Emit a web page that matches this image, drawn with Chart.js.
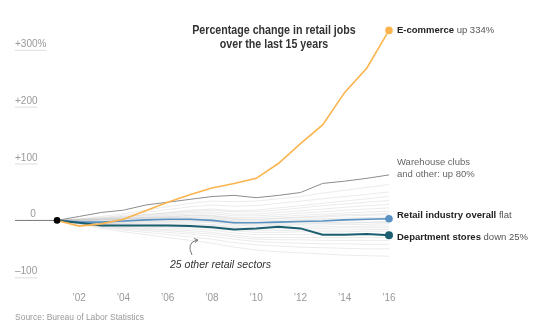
<!DOCTYPE html>
<html>
<head>
<meta charset="utf-8">
<script src="https://cdn.jsdelivr.net/npm/chart.js@4.4.1/dist/chart.umd.min.js"></script>
<style>
  body { margin: 0; background: #fff; }
  #wrap { width: 540px; height: 335px; position: relative; }
</style>
</head>
<body>
<div id="wrap"><canvas id="chart"></canvas></div>
<script>
// years on the x axis
const years = [2001, 2002, 2003, 2004, 2005, 2006, 2007, 2008, 2009, 2010, 2011, 2012, 2013, 2014, 2015, 2016];
const xTickYears = [2002, 2004, 2006, 2008, 2010, 2012, 2014, 2016];
const yTicks = [300, 200, 100, 0, -100];

// highlighted series (% change since 2001)
const ecommerce = [0, -10, -6, 2, 17, 32, 45, 57, 65, 74, 100, 135, 168, 225, 268, 334];
const warehouse = [0, 7, 14, 18, 27, 32, 37, 42, 44, 40, 44, 49, 65, 69, 74, 80];
const retailOverall = [0, -3, -3, -1, 1, 2, 2, 0, -4, -4, -3, -2, -1, 1, 2, 3];
const deptStores = [0, -4, -9, -9, -9, -9, -10, -12, -16, -14, -11, -14, -25, -25, -24, -26];

// the 25 other retail sectors (light grey)
const otherSectors = [
  [0, 3, 7, 12, 18, 24, 30, 34, 33, 34, 38, 42, 48, 53, 58, 63],
  [0, 2, 5, 9, 14, 19, 24, 27, 25, 26, 30, 34, 38, 42, 46, 50],
  [0, 1, 3, 6, 10, 14, 18, 20, 17, 18, 22, 26, 30, 34, 38, 42],
  [0, 2, 4, 7, 10, 13, 16, 18, 15, 15, 18, 22, 26, 29, 32, 35],
  [0, 1, 3, 5, 8, 11, 14, 15, 11, 11, 14, 17, 20, 23, 26, 28],
  [0, 1, 2, 4, 6, 9, 11, 12, 8, 8, 10, 13, 15, 18, 20, 22],
  [0, 0, 1, 3, 5, 7, 9, 9, 5, 5, 7, 9, 11, 13, 15, 16],
  [0, 1, 2, 3, 5, 6, 8, 8, 3, 2, 4, 6, 8, 10, 11, 12],
  [0, -1, 0, 2, 4, 5, 6, 6, 2, 1, 3, 5, 6, 8, 9, 10],
  [0, 0, 1, 2, 3, 4, 5, 4, 0, -1, 0, 2, 3, 4, 5, 6],
  [0, -1, -1, 0, 1, 2, 3, 2, -2, -3, -2, 0, 1, 2, 3, 4],
  [0, -2, -2, -1, 0, 1, 2, 1, -3, -4, -3, -2, -1, 0, 1, 2],
  [0, -1, -2, -2, -1, 0, 0, -1, -5, -6, -5, -4, -4, -3, -3, -2],
  [0, -2, -3, -3, -2, -2, -1, -2, -6, -8, -7, -6, -5, -5, -4, -4],
  [0, -2, -4, -4, -4, -3, -3, -4, -8, -10, -9, -8, -8, -7, -7, -6],
  [0, -3, -5, -6, -6, -6, -6, -7, -11, -13, -12, -12, -11, -11, -10, -10],
  [0, -2, -5, -6, -7, -7, -8, -9, -13, -15, -15, -14, -14, -13, -13, -13],
  [0, -3, -6, -8, -9, -9, -10, -11, -15, -18, -18, -17, -17, -17, -16, -16],
  [0, -3, -7, -9, -10, -11, -12, -14, -18, -21, -21, -20, -20, -20, -19, -19],
  [0, -4, -8, -10, -12, -13, -15, -17, -22, -25, -25, -25, -24, -24, -24, -24],
  [0, -4, -9, -12, -14, -16, -18, -21, -26, -30, -30, -30, -30, -30, -30, -30],
  [0, -5, -10, -13, -16, -18, -21, -24, -29, -33, -34, -34, -35, -35, -35, -35],
  [0, -5, -11, -15, -18, -21, -24, -28, -33, -37, -39, -40, -41, -41, -42, -42],
  [0, -6, -12, -17, -21, -25, -29, -33, -39, -43, -45, -47, -48, -49, -50, -50],
  [0, -7, -14, -20, -25, -30, -35, -40, -47, -52, -55, -57, -59, -61, -62, -63]
];

const FONT = "'Liberation Sans', Arial, sans-serif";

function toPoints(values) {
  return values.map((v, i) => ({ x: years[i], y: v }));
}

// only the last point gets a dot
function endDot(values, r) {
  return values.map((v, i) => (i === values.length - 1 ? r : 0));
}

const datasets = [
  {
    data: toPoints(ecommerce),
    borderColor: '#fbb44e',
    backgroundColor: '#fbb44e',
    borderWidth: 1.6,
    pointRadius: endDot(ecommerce, 3)
  },
  {
    data: toPoints(deptStores),
    borderColor: '#1b5e6f',
    backgroundColor: '#1b5e6f',
    borderWidth: 2,
    pointRadius: endDot(deptStores, 3)
  },
  {
    data: toPoints(retailOverall),
    borderColor: '#5b92c4',
    backgroundColor: '#5b92c4',
    borderWidth: 1.6,
    pointRadius: endDot(retailOverall, 3)
  },
  {
    data: toPoints(warehouse),
    borderColor: '#8c8c8c',
    borderWidth: 1,
    pointRadius: 0
  }
];

otherSectors.forEach(s => {
  datasets.push({
    data: toPoints(s),
    borderColor: 'rgba(190,190,190,0.3)',
    borderWidth: 1,
    pointRadius: 0
  });
});

// labels, axis marks and notes drawn around the chart
const decorations = {
  id: 'decorations',
  beforeDatasetsDraw(chart) {
    const ctx = chart.ctx;
    const xs = chart.scales.x;
    const ys = chart.scales.y;
    const left = chart.chartArea.left;
    ctx.save();

    // y tick labels with short underlines
    ctx.font = '10px ' + FONT;
    ctx.textBaseline = 'alphabetic';
    yTicks.forEach(t => {
      const y = ys.getPixelForValue(t);
      if (t === 0) {
        ctx.fillStyle = '#999';
        ctx.textAlign = 'center';
        ctx.fillText('0', left + 18, y - 3);
        ctx.strokeStyle = '#777';
        ctx.lineWidth = 1;
        ctx.beginPath();
        ctx.moveTo(left, y);
        ctx.lineTo(xs.getPixelForValue(years[0]), y);
        ctx.stroke();
        return;
      }
      let txt = (t > 0 ? '+' : '\u2013') + Math.abs(t);
      if (t === 300) txt += '%';
      ctx.fillStyle = '#999';
      ctx.textAlign = 'left';
      ctx.fillText(txt, left, y - 3);
      const w = ctx.measureText(txt).width;
      ctx.strokeStyle = '#ddd';
      ctx.beginPath();
      ctx.moveTo(left, y + 0.5);
      ctx.lineTo(left + w, y + 0.5);
      ctx.stroke();
    });
    ctx.restore();
  },
  afterDatasetsDraw(chart) {
    const ctx = chart.ctx;
    const xs = chart.scales.x;
    const ys = chart.scales.y;
    const last = years.length - 1;
    const lx = xs.getPixelForValue(years[last]) + 8;
    ctx.save();

    // origin dot
    ctx.fillStyle = '#000';
    ctx.beginPath();
    ctx.arc(xs.getPixelForValue(years[0]), ys.getPixelForValue(0), 3.3, 0, Math.PI * 2);
    ctx.fill();

    // title, squeezed to look like a condensed face
    ctx.fillStyle = '#333';
    ctx.textAlign = 'center';
    ctx.textBaseline = 'middle';
    ctx.font = 'bold 13px ' + FONT;
    [['Percentage change in retail jobs', 30], ['over the last 15 years', 44]].forEach(([t, y]) => {
      ctx.save();
      ctx.translate(274, y);
      ctx.scale(0.82, 1);
      ctx.fillText(t, 0, 0);
      ctx.restore();
    });

    // end labels
    ctx.textAlign = 'left';
    function twoPart(bold, rest, y) {
      ctx.font = 'bold 9.5px ' + FONT;
      ctx.fillStyle = '#222';
      ctx.fillText(bold, lx, y);
      const w = ctx.measureText(bold + ' ').width;
      ctx.font = '9.5px ' + FONT;
      ctx.fillStyle = '#555';
      ctx.fillText(rest, lx + w, y);
    }
    twoPart('E-commerce', 'up 334%', ys.getPixelForValue(ecommerce[last]));
    twoPart('Retail industry overall', 'flat', ys.getPixelForValue(retailOverall[last]) - 3);
    twoPart('Department stores', 'down 25%', ys.getPixelForValue(deptStores[last]) + 2);

    ctx.font = '9.5px ' + FONT;
    ctx.fillStyle = '#666';
    const wy = ys.getPixelForValue(warehouse[last]);
    ctx.fillText('Warehouse clubs', lx, wy - 13);
    ctx.fillText('and other: up 80%', lx, wy - 1);

    // annotation for the grey lines
    ctx.font = 'italic 10.5px ' + FONT;
    ctx.fillStyle = '#333';
    ctx.fillText('25 other retail sectors', 170, 265);
    ctx.strokeStyle = '#555';
    ctx.lineWidth = 0.8;
    ctx.beginPath();
    ctx.moveTo(192, 255);
    ctx.quadraticCurveTo(186, 243, 197, 240);
    ctx.stroke();
    ctx.beginPath();
    ctx.moveTo(194, 238.5);
    ctx.lineTo(198, 240);
    ctx.lineTo(195, 242.5);
    ctx.stroke();

    // source
    ctx.font = '8.5px ' + FONT;
    ctx.fillStyle = '#999';
    ctx.fillText('Source: Bureau of Labor Statistics', 15, 318);
    ctx.restore();
  }
};

new Chart(document.getElementById('chart'), {
  type: 'line',
  data: { datasets: datasets },
  options: {
    responsive: true,
    maintainAspectRatio: false,
    animation: false,
    clip: false,
    elements: { line: { tension: 0 }, point: { borderWidth: 0, hoverRadius: 0 } },
    layout: { padding: { left: 15, right: 151, top: 27, bottom: 22 } },
    plugins: { legend: { display: false }, tooltip: { enabled: false } },
    scales: {
      x: {
        type: 'linear',
        min: 1999.1,
        max: 2016,
        grid: { display: false, drawTicks: false },
        border: { display: false },
        afterBuildTicks(scale) {
          scale.ticks = xTickYears.map(v => ({ value: v }));
        },
        ticks: {
          padding: 9,
          color: '#999',
          font: { size: 10, family: FONT },
          maxRotation: 0,
          autoSkip: false,
          callback: v => '\u2019' + String(v).slice(2)
        }
      },
      y: {
        display: false,
        min: -110,
        max: 340
      }
    }
  },
  plugins: [decorations]
});
</script>
</body>
</html>
